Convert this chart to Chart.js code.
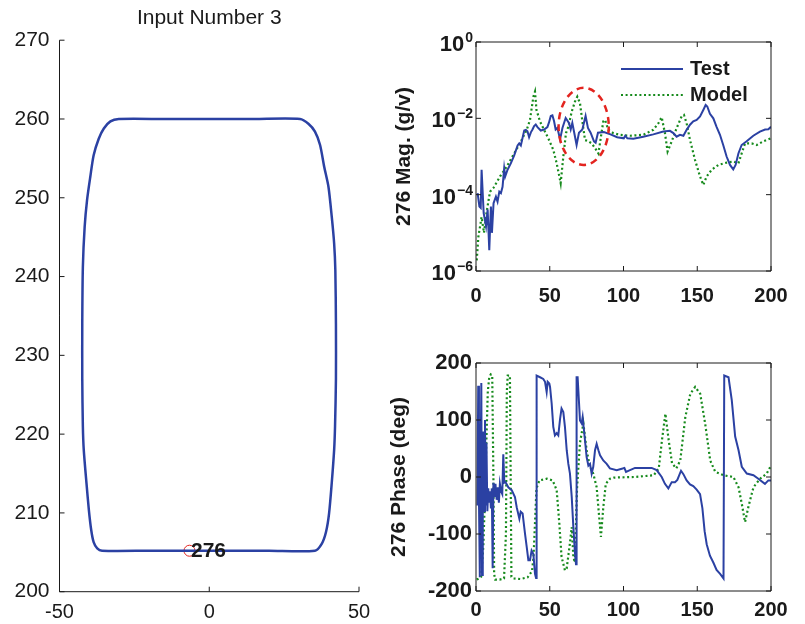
<!DOCTYPE html>
<html>
<head>
<meta charset="utf-8">
<script src="https://cdn.jsdelivr.net/npm/chart.js@4.4.1/dist/chart.umd.min.js"></script>
<style>
  body { margin: 0; background: #fff; }
  #wrap { position: relative; width: 805px; height: 624px; }
  canvas { position: absolute; }
</style>
</head>
<body>
<div id="wrap">
  <canvas id="shapeChart" width="390" height="624" style="left:0;top:0"></canvas>
  <canvas id="magChart" width="415" height="310" style="left:390px;top:0"></canvas>
  <canvas id="phaseChart" width="415" height="314" style="left:390px;top:310px"></canvas>
</div>
<script>
const FONT = "'Liberation Sans', Arial, Helvetica, sans-serif";
const INK = '#1a1a1a';
const BLUE = '#2b41a3';
const GREEN = '#168a1c';
const RED = '#e3241f';

// --- left panel: outline of the part, node 276 ---
const outlineX = [0, 15, 30.3, 33.1, 35.3, 37.0, 38.4, 39.8, 40.9, 41.7, 42.1, 42.3, 42.3, 42.0, 41.7, 40.9, 40.0, 39.0, 37.6, 35.3, 20, 0, -20, -35.8, -37.4, -38.6, -39.4, -40.2, -41.0, -41.9, -42.2, -42.4, -42.4, -42.2, -41.6, -40.8, -39.7, -38.6, -36.9, -35.2, -33.0, -30.2, -15, 0];
const outlineY = [260.0, 260.0, 260.0, 259.4, 258.4, 256.7, 253.9, 251.4, 247.6, 244.2, 240.8, 234.0, 227.0, 221.0, 218.0, 213.8, 209.9, 207.6, 206.1, 205.2, 205.2, 205.2, 205.2, 205.2, 205.5, 206.3, 207.8, 210.4, 213.8, 218.0, 221.0, 227.0, 234.0, 241.2, 246.3, 249.7, 252.7, 255.4, 257.5, 258.8, 259.7, 260.0, 260.0, 260.0];
const nodeX = [-6.6];
const nodeY = [205.2];
const nodeLabel = ['276'];
const shapeXTicks = [-50, 0, 50];
const shapeYTicks = [200, 210, 220, 230, 240, 250, 260, 270];

// --- right panels: FRF at node 276 ---
const freqTicks = [0, 50, 100, 150, 200];
const magTicks = [1e-6, 1e-4, 1e-2, 1];
const magTickExp = ['\u22126', '\u22124', '\u22122', '0'];
const phaseTicks = [-200, -100, 0, 100, 200];

const testMagFreq = [1.1, 2.3, 3.2, 3.8, 5.2, 6.8, 7.9, 9.0, 10.1, 10.8, 11.9, 13.5, 14.6, 15.8, 16.9, 18.0, 19.1, 19.8, 21.4, 23.6, 25.9, 28.2, 29.3, 30.4, 32.7, 33.8, 34.9, 36.0, 37.2, 38.3, 39.4, 40.5, 41.7, 43.9, 46.2, 48.4, 49.5, 50.7, 51.8, 52.9, 54.0, 55.2, 57.0, 58.6, 60.8, 63.0, 64.2, 65.3, 66.4, 68.2, 69.8, 72.1, 74.3, 75.9, 77.7, 80.0, 81.1, 82.7, 86.7, 91.2, 95.7, 100.2, 101.2, 102.6, 106.7, 113.4, 120.2, 127.0, 131.5, 133.8, 136.0, 138.3, 140.6, 142.8, 145.1, 147.3, 149.6, 151.9, 154.1, 155.7, 156.8, 158.6, 160.9, 163.1, 165.4, 167.6, 169.9, 172.2, 174.4, 176.0, 177.9, 180.1, 183.5, 188.0, 192.5, 196.0, 198.2, 200.0];
const testMag = [1.1e-4, 4.9e-5, 4.5e-5, 4.5e-4, 3.3e-5, 1.5e-5, 4.1e-5, 3.5e-6, 4.9e-5, 1.0e-5, 6.0e-5, 8.9e-5, 6.6e-5, 1.2e-4, 1.1e-4, 1.6e-4, 4.9e-4, 3.0e-4, 4.5e-4, 6.6e-4, 1.07e-3, 1.95e-3, 2.2e-3, 1.95e-3, 4.8e-3, 5.0e-3, 4.6e-3, 3.2e-3, 4.3e-3, 5.1e-3, 6.3e-3, 6.9e-3, 5.9e-3, 4.8e-3, 5.1e-3, 5.9e-3, 7.8e-3, 1.15e-2, 1.2e-2, 8.5e-3, 5.1e-3, 5.6e-3, 2.8e-3, 5.6e-3, 1.02e-2, 7.6e-3, 5.1e-3, 7.6e-3, 4.6e-3, 2.0e-3, 4.2e-3, 5.1e-3, 1.15e-2, 5.6e-3, 4.2e-3, 2.5e-3, 2.3e-3, 4.2e-3, 4.4e-3, 3.8e-3, 3.2e-3, 3.0e-3, 3.5e-3, 3.0e-3, 2.9e-3, 3.3e-3, 3.8e-3, 4.5e-3, 4.7e-3, 4.1e-3, 3.3e-3, 3.7e-3, 3.5e-3, 5.0e-3, 6.8e-3, 8.3e-3, 9.1e-3, 1.12e-2, 1.66e-2, 2.24e-2, 2.04e-2, 1.32e-2, 1.0e-2, 6.0e-3, 3.7e-3, 2.0e-3, 1.0e-3, 6.0e-4, 4.6e-4, 6.0e-4, 1.2e-3, 2.0e-3, 2.5e-3, 3.5e-3, 4.5e-3, 5.1e-3, 5.2e-3, 6.0e-3];

const modelMagFreq = [0.5, 1.6, 3.8, 5.4, 7.2, 9.5, 11.8, 16.3, 20.8, 25.3, 29.8, 32, 34.4, 36.6, 38.9, 40, 41, 43.4, 45.6, 49, 52.4, 54.7, 56.5, 57.4, 59.2, 61, 62.6, 64.9, 67.1, 68.7, 70.5, 72.3, 73.9, 76.2, 78.4, 80.7, 83, 84.7, 86.3, 87.5, 89.7, 93.1, 97.6, 104.4, 113.4, 120.2, 123.6, 125.9, 128.1, 129.9, 132.7, 136, 139.4, 141, 142.8, 145.1, 148.5, 151.9, 154.1, 156.4, 159.8, 164.3, 169.9, 174.4, 177.9, 180.1, 182.4, 186.9, 190.3, 194.8, 200];
const modelMag = [1.9e-6, 7.9e-6, 2.6e-5, 1.0e-5, 3.5e-5, 1.2e-4, 1.5e-4, 3.0e-4, 5.4e-4, 1.1e-3, 2.2e-3, 3.3e-3, 5.0e-3, 9.1e-3, 3.7e-2, 5.0e-2, 1.66e-2, 8.3e-3, 5.5e-3, 3.0e-3, 1.5e-3, 6.6e-4, 3.0e-4, 2.0e-4, 1.0e-3, 4.1e-3, 6.0e-3, 1.5e-2, 2.75e-2, 3.7e-2, 2.5e-2, 7.4e-3, 2.7e-3, 2.5e-3, 2.2e-3, 1.66e-3, 1.2e-3, 3.3e-3, 8.3e-3, 9.1e-3, 5.0e-3, 4.1e-3, 3.7e-3, 3.5e-3, 3.7e-3, 5.0e-3, 7.4e-3, 1.07e-2, 4.1e-3, 1.35e-3, 2.5e-3, 5.5e-3, 1.12e-2, 1.23e-2, 7.4e-3, 2.7e-3, 8.1e-4, 3.0e-4, 1.8e-4, 3.0e-4, 4.5e-4, 6.0e-4, 6.9e-4, 7.4e-4, 6.6e-4, 1.2e-3, 2.2e-3, 2.2e-3, 2.0e-3, 2.5e-3, 3.0e-3];

const testPhaseFreq = [1.0, 1.5, 2.0, 2.6, 3.1, 3.6, 4.1, 4.6, 5.1, 5.6, 6.1, 6.6, 7.1, 7.7, 8.3, 8.9, 9.5, 10.1, 10.7, 11.3, 11.8, 12.5, 13.2, 14.0, 14.8, 15.5, 16.2, 17.0, 17.8, 18.5, 19.2, 20.0, 21.9, 24.2, 26.4, 27.6, 29.4, 30.3, 31.6, 33.2, 34.4, 35.5, 36.6, 37.7, 38.9, 40.0, 40.7, 41.1, 43.4, 45.6, 46.8, 47.9, 48.6, 49.7, 50.2, 51.3, 52.4, 53.5, 54.7, 55.8, 57.0, 58.0, 59.2, 60.3, 61.5, 62.6, 63.7, 64.9, 66.0, 67.1, 67.8, 68.2, 68.9, 70.5, 71.6, 72.3, 73.9, 75.0, 76.2, 77.3, 78.4, 79.5, 80.7, 81.8, 83.0, 84.1, 86.3, 88.6, 90.8, 95.4, 99.4, 100.6, 101.7, 104.4, 107.8, 113.4, 119.1, 122.5, 125.9, 128.1, 130.4, 132.7, 134.9, 136.5, 139.0, 140.6, 142.8, 145.1, 147.3, 149.6, 151.9, 153.5, 155.0, 156.4, 158.6, 160.9, 163.1, 165.5, 167.8, 168.3, 171.2, 173.4, 175.7, 178.0, 180.2, 183.6, 188.1, 191.4, 195.9, 198.2, 200.0];
const testPhase = [-50, 160, -40, -176, 5, 165, -172, -30, 80, -60, 100, -50, 60, -60, -20, -45, -25, -55, -20, -160, -10, -35, -12, -40, -18, -45, -12, -25, -30, 40, -10, -9, -18, -23, -35, -53, -73, -61, -64, -99, -123, -146, -146, -129, -135, -170, -177, 178, 175, 172, 167, 149, 167, 164, 158, 129, 88, 73, 77, 73, 102, 120, 114, 88, 47, 23, 6, -35, -88, -134, -153, 175, 175, 99, 94, 105, 64, 35, 20, 23, 6, 18, 47, 58, 47, 38, 29, 23, 15, 12, 15, 16, 9, 12, 16, 16, 16, 12, 0, -12, -20, -9, -9, -5, 11, 5, -6, -13, -16, -22, -30, -55, -95, -118, -138, -150, -163, -170, -178, 178, 175, 135, 71, 47, 18, 6, 3, -3, -12, -6, -6];

const modelPhaseFreq = [0.5, 2.0, 3.5, 5.0, 6.0, 7.0, 8.0, 9.0, 10.0, 11.0, 11.8, 12.3, 13.0, 16.0, 19.0, 20.3, 20.9, 21.5, 23.0, 23.5, 24.0, 25.0, 30.0, 35.0, 38.0, 39.0, 40.0, 41.0, 43.0, 48.0, 52.0, 54.7, 56.5, 58.0, 60.3, 61.5, 63.5, 64.9, 66.0, 67.0, 68.5, 70.5, 72.8, 75.0, 77.3, 79.5, 81.8, 83.5, 84.7, 86.3, 88.0, 90.8, 93.5, 107.0, 120.5, 123.9, 126.1, 128.4, 130.6, 132.9, 135.8, 138.5, 141.9, 145.3, 148.6, 152.0, 155.4, 158.8, 162.2, 167.8, 174.5, 178.0, 180.2, 182.4, 184.7, 188.1, 192.6, 197.1, 200.0];
const modelPhase = [-180, -178, -175, -120, -40, 60, 150, 175, 180, 178, 0, -170, -180, -180, -178, -100, 150, 178, 178, 0, -175, -178, -179, -176, -165, -140, -80, -20, -6, -3, -6, -23, -82, -140, -164, -160, -120, -88, -140, -150, -20, 60, 94, 47, 18, 6, -18, -70, -105, -53, -12, -3, -1, 0, 3, 15, 65, 111, 65, 24, 15, 29, 105, 146, 158, 146, 93, 29, 9, 3, 0, -18, -47, -79, -52, -18, -3, 6, 20];

// dashed red ring marking the 60-90 Hz region
const ringFreq = [56, 90];
const ringMag = [6.3e-2, 6.0e-4];

const legendNames = ['Test', 'Model'];

function zip(xs, ys) {
    return xs.map((x, i) => ({ x: x, y: ys[i] }));
}

// MATLAB-like axes: inward ticks, optional full box
const matlabAxes = {
    id: 'matlabAxes',
    afterDatasetsDraw(chart, args, opts) {
        const { ctx, chartArea: a } = chart;
        const sx = chart.scales.x, sy = chart.scales.y;
        const t = 5;
        ctx.save();
        ctx.strokeStyle = INK;
        ctx.lineWidth = 1;
        ctx.beginPath();
        if (opts.box) {
            ctx.rect(a.left, a.top, a.right - a.left, a.bottom - a.top);
        } else {
            ctx.moveTo(a.left, a.top);
            ctx.lineTo(a.left, a.bottom);
            ctx.lineTo(a.right, a.bottom);
        }
        sx.ticks.forEach(tk => {
            const px = sx.getPixelForValue(tk.value);
            ctx.moveTo(px, a.bottom); ctx.lineTo(px, a.bottom - t);
            if (opts.box) { ctx.moveTo(px, a.top); ctx.lineTo(px, a.top + t); }
        });
        sy.ticks.forEach(tk => {
            const py = sy.getPixelForValue(tk.value);
            ctx.moveTo(a.left, py); ctx.lineTo(a.left + t, py);
            if (opts.box) { ctx.moveTo(a.right, py); ctx.lineTo(a.right - t, py); }
        });
        ctx.stroke();
        ctx.restore();
    }
};

// node number next to the marker
const nodeText = {
    id: 'nodeText',
    afterDatasetsDraw(chart) {
        const ctx = chart.ctx;
        const sx = chart.scales.x, sy = chart.scales.y;
        ctx.save();
        ctx.fillStyle = INK;
        ctx.font = 'bold 21px ' + FONT;
        ctx.textAlign = 'left';
        ctx.textBaseline = 'middle';
        nodeLabel.forEach((txt, i) => {
            ctx.fillText(txt, sx.getPixelForValue(nodeX[i]) + 1.5, sy.getPixelForValue(nodeY[i]));
        });
        ctx.restore();
    }
};

// log tick labels (10^n), red ring and legend on the magnitude plot
const magExtras = {
    id: 'magExtras',
    afterDatasetsDraw(chart) {
        const ctx = chart.ctx;
        const sx = chart.scales.x, sy = chart.scales.y;
        const x0 = sx.getPixelForValue(ringFreq[0]), x1 = sx.getPixelForValue(ringFreq[1]);
        const y0 = sy.getPixelForValue(ringMag[0]), y1 = sy.getPixelForValue(ringMag[1]);
        ctx.save();
        ctx.strokeStyle = RED;
        ctx.lineWidth = 2.5;
        ctx.setLineDash([7, 5]);
        ctx.beginPath();
        ctx.ellipse((x0 + x1) / 2, (y0 + y1) / 2, (x1 - x0) / 2, (y1 - y0) / 2, 0, 0, 2 * Math.PI);
        ctx.stroke();
        ctx.restore();
    },
    afterDraw(chart) {
        const ctx = chart.ctx;
        const a = chart.chartArea;
        const sy = chart.scales.y;
        const right = a.left - 3;
        ctx.save();
        ctx.fillStyle = INK;
        ctx.textAlign = 'right';
        ctx.textBaseline = 'alphabetic';
        magTicks.forEach((v, i) => {
            const py = sy.getPixelForValue(v);
            ctx.font = 'bold 14px ' + FONT;
            const ew = ctx.measureText(magTickExp[i]).width;
            ctx.fillText(magTickExp[i], right, py);
            ctx.font = 'bold 22px ' + FONT;
            ctx.fillText('10', right - ew - 1, py + 9);
        });

        // legend
        const colors = [BLUE, GREEN];
        const dashes = [[], [2, 2.6]];
        ctx.textAlign = 'left';
        ctx.textBaseline = 'middle';
        ctx.font = 'bold 20px ' + FONT;
        legendNames.forEach((name, i) => {
            const y = a.top + 27 + i * 26;
            ctx.strokeStyle = colors[i];
            ctx.lineWidth = 2.2;
            ctx.setLineDash(dashes[i]);
            ctx.beginPath();
            ctx.moveTo(a.right - 150, y);
            ctx.lineTo(a.right - 88, y);
            ctx.stroke();
            ctx.fillStyle = INK;
            ctx.fillText(name, a.right - 81, y);
        });
        ctx.restore();
    }
};

function freqAxis(height, pad) {
    return {
        type: 'linear', min: 0, max: 200,
        afterBuildTicks: s => { s.ticks = freqTicks.map(v => ({ value: v })); },
        grid: { display: false, drawTicks: false },
        border: { display: false },
        ticks: { color: INK, font: { family: FONT, size: 20, weight: 'bold' }, padding: pad, maxRotation: 0, autoSkip: false },
        afterFit: s => { s.height = height; }
    };
}

new Chart(document.getElementById('shapeChart'), {
    type: 'scatter',
    data: {
        datasets: [{
            data: zip(outlineX, outlineY),
            showLine: true,
            tension: 0.25,
            borderColor: BLUE,
            borderWidth: 2.5,
            pointRadius: 0
        }, {
            data: zip(nodeX, nodeY),
            pointRadius: 5.5,
            pointBorderColor: RED,
            pointBackgroundColor: 'rgba(0,0,0,0)',
            pointBorderWidth: 1
        }]
    },
    options: {
        responsive: false,
        animation: false,
        layout: { padding: { left: 0, right: 31, top: 0, bottom: 0 } },
        plugins: {
            legend: { display: false },
            tooltip: { enabled: false },
            title: {
                display: true, text: 'Input Number 3', fullSize: false, color: INK,
                font: { family: FONT, size: 21, weight: 'normal' },
                padding: { top: 6, bottom: 9 }
            },
            matlabAxes: { box: false }
        },
        scales: {
            x: {
                type: 'linear', min: -50, max: 50,
                afterBuildTicks: s => { s.ticks = shapeXTicks.map(v => ({ value: v })); },
                grid: { display: false, drawTicks: false },
                border: { display: false },
                ticks: { color: INK, font: { family: FONT, size: 20 }, padding: 9, maxRotation: 0, autoSkip: false },
                afterFit: s => { s.height = 32.3; }
            },
            y: {
                type: 'linear', min: 200, max: 270,
                afterBuildTicks: s => { s.ticks = shapeYTicks.map(v => ({ value: v })); },
                grid: { display: false, drawTicks: false },
                border: { display: false },
                ticks: { color: INK, font: { family: FONT, size: 21 }, padding: 10, autoSkip: false },
                afterFit: s => { s.width = 59.5; }
            }
        }
    },
    plugins: [matlabAxes, nodeText]
});

new Chart(document.getElementById('magChart'), {
    type: 'scatter',
    data: {
        datasets: [{
            label: legendNames[0],
            data: zip(testMagFreq, testMag),
            showLine: true, borderColor: BLUE, borderWidth: 2, pointRadius: 0
        }, {
            label: legendNames[1],
            data: zip(modelMagFreq, modelMag),
            showLine: true, borderColor: GREEN, borderWidth: 2.2, borderDash: [2, 2.6], pointRadius: 0
        }]
    },
    options: {
        responsive: false,
        animation: false,
        layout: { padding: { left: 0, right: 34, top: 42, bottom: 0 } },
        plugins: {
            legend: { display: false },
            tooltip: { enabled: false },
            matlabAxes: { box: true }
        },
        scales: {
            x: freqAxis(39, 13),
            y: {
                type: 'logarithmic', min: 1e-6, max: 1,
                afterBuildTicks: s => { s.ticks = magTicks.map(v => ({ value: v })); },
                grid: { display: false, drawTicks: false },
                border: { display: false },
                ticks: { display: false },
                title: {
                    display: true, text: '276 Mag. (g/v)', color: INK,
                    font: { family: FONT, size: 21, weight: 'bold' },
                    padding: { top: 2, bottom: 0 }
                },
                afterFit: s => { s.width = 86; }
            }
        }
    },
    plugins: [matlabAxes, magExtras]
});

new Chart(document.getElementById('phaseChart'), {
    type: 'scatter',
    data: {
        datasets: [{
            label: legendNames[0],
            data: zip(testPhaseFreq, testPhase),
            showLine: true, borderColor: BLUE, borderWidth: 2, pointRadius: 0
        }, {
            label: legendNames[1],
            data: zip(modelPhaseFreq, modelPhase),
            showLine: true, borderColor: GREEN, borderWidth: 2.2, borderDash: [2, 2.6], pointRadius: 0
        }]
    },
    options: {
        responsive: false,
        animation: false,
        layout: { padding: { left: 0, right: 34, top: 53, bottom: 0 } },
        plugins: {
            legend: { display: false },
            tooltip: { enabled: false },
            matlabAxes: { box: true }
        },
        scales: {
            x: freqAxis(33, 7),
            y: {
                type: 'linear', min: -200, max: 200,
                afterBuildTicks: s => { s.ticks = phaseTicks.map(v => ({ value: v })); },
                grid: { display: false, drawTicks: false },
                border: { display: false },
                ticks: { color: INK, font: { family: FONT, size: 22, weight: 'bold' }, padding: 4, autoSkip: false },
                title: {
                    display: true, text: '276 Phase (deg)', color: INK,
                    font: { family: FONT, size: 21, weight: 'bold', lineHeight: 0.9 },
                    padding: { top: 0, bottom: 0 }
                },
                afterFit: s => { s.width = 86; }
            }
        }
    },
    plugins: [matlabAxes]
});
</script>
</body>
</html>
